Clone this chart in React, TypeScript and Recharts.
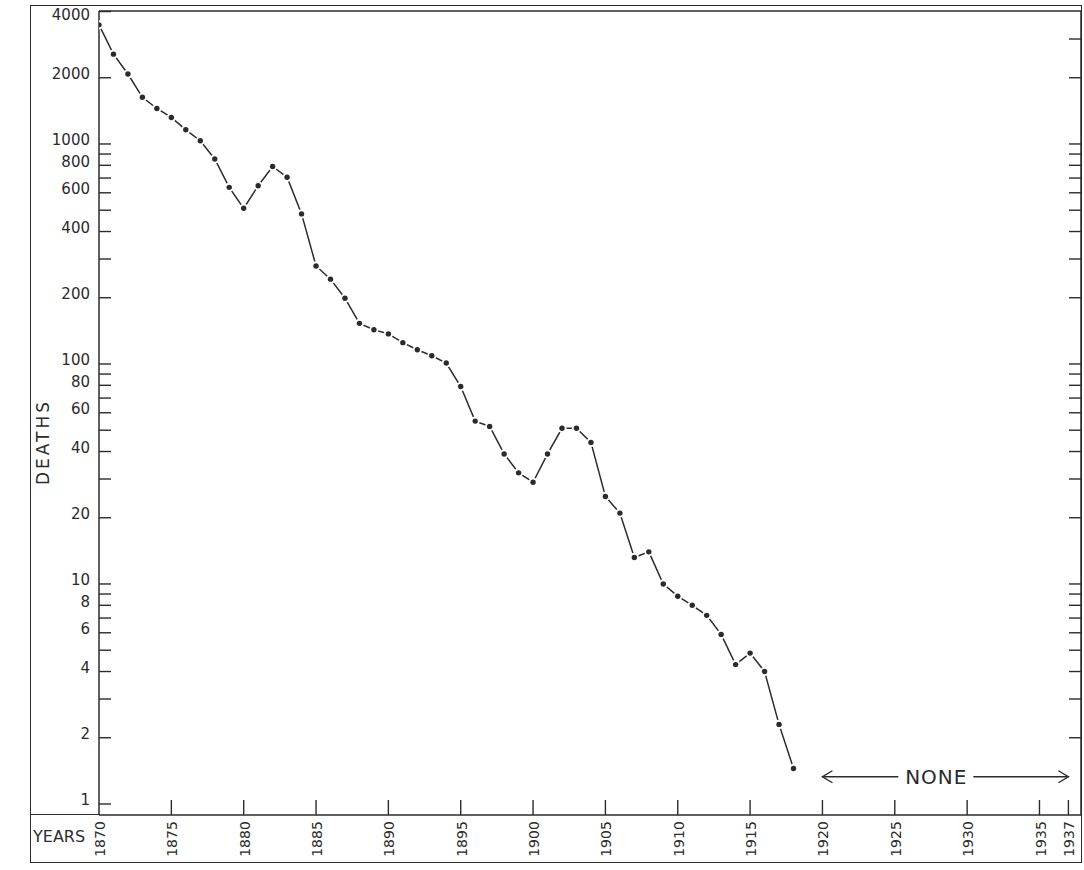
import React from 'react';
import { LineChart, Line, XAxis, YAxis, ReferenceLine, Label } from 'recharts';

const YEARS = [
  1870, 1871, 1872, 1873, 1874, 1875, 1876, 1877, 1878, 1879,
  1880, 1881, 1882, 1883, 1884, 1885, 1886, 1887, 1888, 1889,
  1890, 1891, 1892, 1893, 1894, 1895, 1896, 1897, 1898, 1899,
  1900, 1901, 1902, 1903, 1904, 1905, 1906, 1907, 1908, 1909,
  1910, 1911, 1912, 1913, 1914, 1915, 1916, 1917, 1918,
];

const DEATHS = [
  3480, 2560, 2080, 1630, 1450, 1320, 1160, 1035, 855, 635,
  510, 646, 790, 706, 481, 279, 243, 199, 153, 143,
  137, 125, 116, 109, 101, 79, 55, 52, 39, 32,
  29, 39, 51, 51, 44, 25, 21, 13.2, 14, 10,
  8.8, 8, 7.2, 5.9, 4.3, 4.85, 4, 2.3, 1.45,
];

const X_TICKS = [1870, 1875, 1880, 1885, 1890, 1895, 1900, 1905, 1910, 1915, 1920, 1925, 1930, 1935, 1937];
const TOP_TICKS = [1875, 1880, 1885, 1890, 1895, 1900, 1905, 1910, 1915, 1920, 1925, 1930, 1935, 1937];

const Y_TICKS = [
  4000, 2000, 1000, 900, 800, 700, 600, 500, 400, 300, 200,
  100, 90, 80, 70, 60, 50, 40, 30, 20,
  10, 9, 8, 7, 6, 5, 4, 3, 2, 1,
];
const Y_TICKS_RIGHT = [
  3000, 2000, 1000, 900, 800, 700, 600, 500, 400, 300, 200,
  100, 90, 80, 70, 60, 50, 40, 30, 20,
  10, 9, 8, 7, 6, 5, 4, 3, 2,
];
const Y_LABELS = [4000, 2000, 1000, 800, 600, 400, 200, 100, 80, 60, 40, 20, 10, 8, 6, 4, 2, 1];

// the "none" span after the last recorded death
const NONE_FROM = 1920;
const NONE_TO = 1937;
const NONE_LEVEL = 1.33;

const INK = '#2b2b2b';
const FONT = "'DejaVu Sans', sans-serif";

const data = YEARS.map((year, i) => ({ year, deaths: DEATHS[i] }));

const LeftTick = (props: any) => {
  const { x, y, payload } = props;
  const v = payload.value;
  return (
    <g>
      <line x1={x} y1={y} x2={x + 12} y2={y} stroke={INK} strokeWidth={1.4} />
      {Y_LABELS.includes(v) && (
        <text x={x - 9} y={Math.max(y - 4, 15)} dy="0.36em" textAnchor="end" fontSize={15} fill={INK} fontFamily={FONT}>
          {v}
        </text>
      )}
    </g>
  );
};

const RightTick = (props: any) => {
  const { x, y } = props;
  return <line x1={x} y1={y} x2={x - 12} y2={y} stroke={INK} strokeWidth={1.4} />;
};

const BottomTick = (props: any) => {
  const { x, y, payload } = props;
  const v = payload.value;
  return (
    <g>
      {v !== 1870 && <line x1={x} y1={y} x2={x} y2={y - 15} stroke={INK} strokeWidth={1.4} />}
      <text
        transform={`translate(${x + 1},${y + 24}) rotate(-90)`}
        dy="0.36em"
        textAnchor="middle"
        fontSize={14}
        fill={INK}
        fontFamily={FONT}
      >
        {v}
      </text>
    </g>
  );
};

const TopTick = (props: any) => {
  const { x, y } = props;
  return <line x1={x} y1={y} x2={x} y2={y + 14} stroke={INK} strokeWidth={1.4} />;
};

// white halo breaks the line next to each point, like the pen lifts in the original
const Dot = (props: any) => {
  const { cx, cy, index } = props;
  if (cx == null || cy == null) return null;
  return (
    <g key={index}>
      <circle cx={cx} cy={cy} r={4.6} fill="#fff" />
      <circle cx={cx} cy={cy} r={2.7} fill={INK} />
    </g>
  );
};

const NoneArrow = (props: any) => {
  const { x1, x2, y1 } = props;
  const mid = x1 + (x2 - x1) * 0.463;
  const half = 32;
  return (
    <g stroke={INK} strokeWidth={1.4} fill="none">
      <line x1={x1} y1={y1} x2={mid - half - 6} y2={y1} />
      <path d={`M${x1 + 10},${y1 - 6} L${x1},${y1} L${x1 + 10},${y1 + 6}`} />
      <line x1={mid + half + 5} y1={y1} x2={x2} y2={y1} />
      <path d={`M${x2 - 10},${y1 - 6} L${x2},${y1} L${x2 - 10},${y1 + 6}`} />
      <text x={mid} y={y1} dy="0.36em" textAnchor="middle" stroke="none" fill={INK} fontSize={20} letterSpacing={1} fontFamily={FONT}>
        NONE
      </text>
    </g>
  );
};

const DeathsLabel = (props: any) => {
  const vb = props.viewBox;
  return (
    <text
      transform={`translate(${vb.x + 4},${vb.y + 431}) rotate(-90)`}
      dy="0.36em"
      textAnchor="middle"
      fontSize={17}
      letterSpacing={3}
      fill={INK}
      fontFamily={FONT}
    >
      DEATHS
    </text>
  );
};

const YearsLabel = (props: any) => {
  const vb = props.viewBox;
  return (
    <text x={vb.x - 66} y={vb.y + 21} dy="0.36em" fontSize={16} fill={INK} fontFamily={FONT}>
      YEARS
    </text>
  );
};

export default function App() {
  return (
    <div style={{ position: 'absolute', left: 0, top: 0, width: 1084, height: 870, background: '#fff', overflow: 'hidden' }}>
      <div
        style={{
          position: 'absolute',
          left: 30,
          top: 5,
          width: 1052,
          height: 858,
          border: `1.5px solid ${INK}`,
          boxSizing: 'border-box',
        }}
      />
      <div style={{ position: 'absolute', left: 30, top: 814, width: 70, borderTop: `1.5px solid ${INK}` }} />
      <div style={{ position: 'absolute', left: 0, top: 0 }}>
        <LineChart width={1084} height={870} data={data} margin={{ top: 10, right: 2, bottom: 10, left: 39 }}>
          <XAxis
            xAxisId="b"
            dataKey="year"
            type="number"
            domain={[1870, 1937.87]}
            allowDataOverflow
            ticks={X_TICKS}
            interval={0}
            height={45}
            tickSize={0}
            tickMargin={0}
            tickLine={false}
            axisLine={{ stroke: INK, strokeWidth: 1.5 }}
            tick={<BottomTick />}
          >
            <Label content={<YearsLabel />} />
          </XAxis>
          <XAxis
            xAxisId="t"
            orientation="top"
            type="number"
            domain={[1870, 1937.87]}
            allowDataOverflow
            ticks={TOP_TICKS}
            interval={0}
            height={1}
            tickSize={0}
            tickMargin={0}
            tickLine={false}
            axisLine={{ stroke: INK, strokeWidth: 1.5 }}
            tick={<TopTick />}
          />
          <YAxis
            yAxisId="l"
            scale="log"
            type="number"
            domain={[0.891, 4022]}
            allowDataOverflow
            ticks={Y_TICKS}
            interval={0}
            width={60}
            tickSize={0}
            tickMargin={0}
            tickLine={false}
            axisLine={{ stroke: INK, strokeWidth: 1.5 }}
            tick={<LeftTick />}
          >
            <Label content={<DeathsLabel />} />
          </YAxis>
          <YAxis
            yAxisId="r"
            orientation="right"
            scale="log"
            type="number"
            domain={[0.891, 4022]}
            allowDataOverflow
            ticks={Y_TICKS_RIGHT}
            interval={0}
            width={1}
            tickSize={0}
            tickMargin={0}
            tickLine={false}
            axisLine={{ stroke: INK, strokeWidth: 1.5 }}
            tick={<RightTick />}
          />
          <ReferenceLine
            xAxisId="b"
            yAxisId="l"
            segment={[
              { x: NONE_FROM, y: NONE_LEVEL },
              { x: NONE_TO, y: NONE_LEVEL },
            ]}
            shape={<NoneArrow />}
          />
          <Line
            xAxisId="b"
            yAxisId="l"
            type="linear"
            dataKey="deaths"
            stroke={INK}
            strokeWidth={1.5}
            dot={<Dot />}
            activeDot={false}
            isAnimationActive={false}
          />
        </LineChart>
      </div>
    </div>
  );
}
